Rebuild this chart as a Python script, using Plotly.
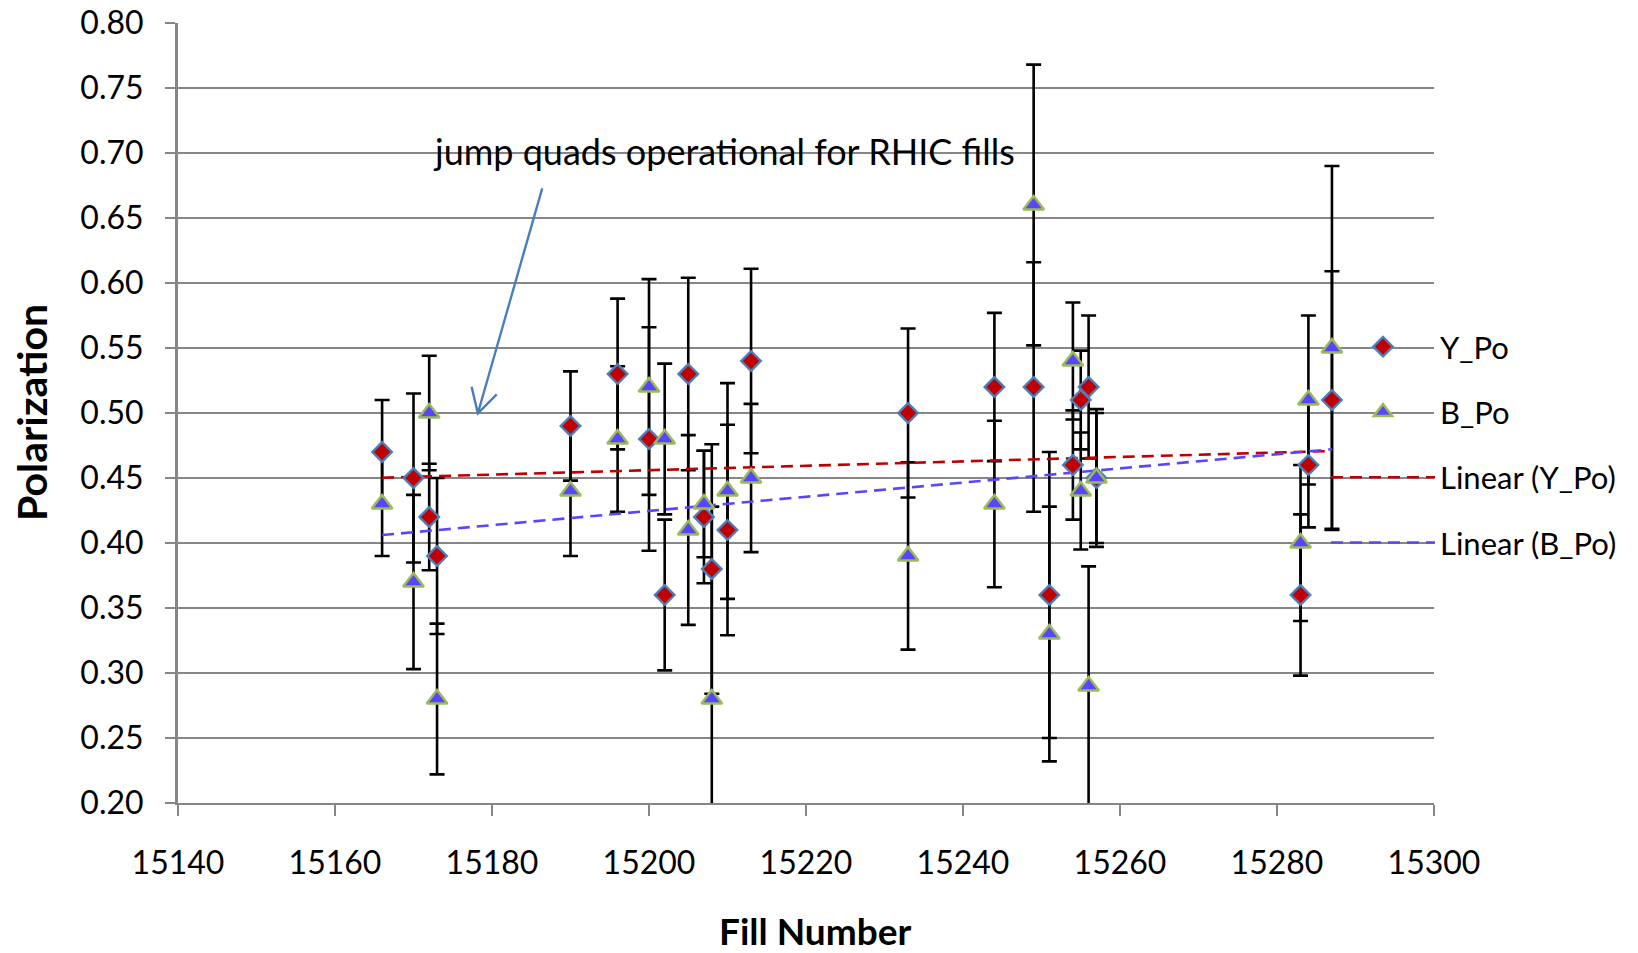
import numpy as np
import plotly.graph_objects as go

# Fill numbers and measured polarizations
fills = [15166, 15170, 15172, 15173, 15190, 15196, 15200, 15202, 15205, 15207,
         15208, 15210, 15213, 15233, 15244, 15249, 15251, 15254, 15255, 15256,
         15257, 15283, 15284, 15287]

y_po = [0.47, 0.45, 0.42, 0.39, 0.49, 0.53, 0.48, 0.36, 0.53, 0.42,
        0.38, 0.41, 0.54, 0.50, 0.52, 0.52, 0.36, 0.46, 0.51, 0.52,
        0.45, 0.36, 0.46, 0.51]
y_err = [0.040, 0.065, 0.041, 0.060, 0.042, 0.058, 0.086, 0.058, 0.074, 0.051,
         0.096, 0.081, 0.071, 0.065, 0.057, 0.096, 0.110, 0.042, 0.038, 0.055,
         0.050, 0.062, 0.048, 0.099]

b_po = [0.43, 0.37, 0.50, 0.28, 0.44, 0.48, 0.52, 0.48, 0.41, 0.43,
        0.28, 0.44, 0.45, 0.39, 0.43, 0.66, 0.33, 0.54, 0.44, 0.29,
        0.45, 0.40, 0.51, 0.55]
b_err = [0.040, 0.067, 0.044, 0.058, 0.050, 0.056, 0.083, 0.058, 0.073, 0.041,
         0.148, 0.083, 0.057, 0.072, 0.064, 0.108, 0.098, 0.045, 0.045, 0.092,
         0.053, 0.060, 0.065, 0.140]

y_ticks = [0.20, 0.25, 0.30, 0.35, 0.40, 0.45, 0.50, 0.55, 0.60, 0.65, 0.70, 0.75, 0.80]
x_ticks = [15140, 15160, 15180, 15200, 15220, 15240, 15260, 15280, 15300]

FONT = "Lato"
GRID = "rgb(134,134,134)"
RED = "rgb(192,0,0)"
BLUE_EDGE = "rgb(74,126,187)"
VIOLET = "rgb(88,70,255)"
GREEN_EDGE = "rgb(155,187,89)"

W, H = 1638, 953
L, R, T, B = 178, 1434, 23, 803   # plot area in page pixels
PW, PH = R - L, B - T


def px(xp):
    return (xp - L) / PW


def py(yp):
    return (B - yp) / PH


fig = go.Figure()

# error bars underneath all markers
for vals, errs in ((y_po, y_err), (b_po, b_err)):
    fig.add_trace(go.Scatter(
        x=fills, y=vals, mode="markers",
        marker=dict(size=1, color="rgba(0,0,0,0)"),
        error_y=dict(type="data", array=errs, color="black", thickness=2.6, width=7.5),
        showlegend=False, hoverinfo="skip"))

# least-squares linear trends
x_lo, x_hi = min(fills), max(fills)
for vals, name, color, rank in ((y_po, "Linear (Y_Po)", RED, 3),
                                (b_po, "Linear (B_Po)", VIOLET, 4)):
    slope, icpt = np.polyfit(fills, vals, 1)
    fig.add_trace(go.Scatter(
        x=[x_lo, x_hi], y=[icpt + slope * x_lo, icpt + slope * x_hi],
        mode="lines", name=name, legendgroup=name, legendrank=rank,
        line=dict(color=color, width=2.6, dash="12px,7px")))

fig.add_trace(go.Scatter(
    x=fills, y=y_po, mode="markers", name="Y_Po", legendgroup="Y_Po", legendrank=1,
    marker=dict(symbol="diamond", size=15, color=RED,
                line=dict(color=BLUE_EDGE, width=2.4))))
fig.add_trace(go.Scatter(
    x=fills, y=b_po, mode="markers", name="B_Po", legendgroup="B_Po", legendrank=2,
    marker=dict(symbol="triangle-up", size=18, color=VIOLET,
                line=dict(color=GREEN_EDGE, width=2.4))))

# note with an open-headed arrow
fig.add_annotation(x=px(724), y=py(151), xref="paper", yref="paper",
                   text="jump quads operational for RHIC fills", showarrow=False,
                   xanchor="center", yanchor="middle",
                   font=dict(family=FONT, size=36, color="black"))
tip = (15178.2, 0.4998)
fig.add_shape(type="path", xref="x", yref="y",
              path=(f"M 15186.4 0.6728 L {tip[0]} {tip[1]} "
                    f"M 15177.4 0.5202 L {tip[0]} {tip[1]} L 15180.6 0.5144"),
              line=dict(color=BLUE_EDGE, width=2.4))

# axis titles
fig.add_annotation(x=px(815), y=py(930), xref="paper", yref="paper",
                   text="<b>Fill Number</b>", showarrow=False,
                   xanchor="center", yanchor="middle",
                   font=dict(family=FONT, size=37, color="black"))
fig.add_annotation(x=px(31), y=0.5, xref="paper", yref="paper",
                   text="<b>Polarization</b>", showarrow=False, textangle=-90,
                   xanchor="center", yanchor="middle",
                   font=dict(family=FONT, size=41, color="black"))

fig.update_layout(
    width=W, height=H,
    margin=dict(l=L, r=W - R, t=T, b=H - B),
    paper_bgcolor="white", plot_bgcolor="white",
    font=dict(family=FONT, size=32, color="black"),
    showlegend=True,
    legend=dict(x=px(1326), y=py(320), xanchor="left", yanchor="top",
                xref="paper", yref="paper",
                bgcolor="rgba(0,0,0,0)", borderwidth=0,
                traceorder="grouped", tracegroupgap=22, itemwidth=104,
                font=dict(family=FONT, size=31, color="black")),
)
fig.update_xaxes(range=[15140, 15300], tickvals=x_ticks, ticktext=[str(t) for t in x_ticks],
                 showgrid=False, showline=True, linecolor=GRID, linewidth=2,
                 ticks="outside", ticklen=11, tickwidth=2, tickcolor=GRID,
                 ticklabelstandoff=20, zeroline=False, automargin=False,
                 tickfont=dict(family=FONT, size=32))
fig.update_yaxes(range=[0.20, 0.80], tickvals=y_ticks, ticktext=[f"{t:.2f}" for t in y_ticks],
                 showgrid=True, gridcolor=GRID, gridwidth=2,
                 showline=True, linecolor=GRID, linewidth=3,
                 ticks="outside", ticklen=10, tickwidth=2, tickcolor=GRID,
                 ticklabelstandoff=15, zeroline=False, automargin=False,
                 tickfont=dict(family=FONT, size=32))

fig.write_html("out.html")
